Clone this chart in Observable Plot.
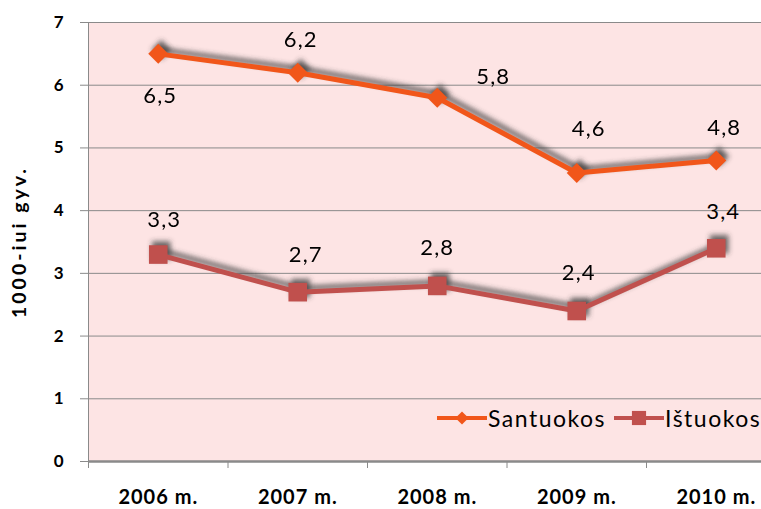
<!DOCTYPE html>
<html><head><meta charset="utf-8">
<script src="https://cdn.jsdelivr.net/npm/d3@7"></script>
<script src="https://cdn.jsdelivr.net/npm/@observablehq/plot@0.6"></script>
<style>
body{margin:0;background:#fff;font-family:Lato,"Open Sans",sans-serif}
#wrap{position:relative;width:761px;height:509px;overflow:hidden}
#legend{position:absolute;left:437px;top:404px;display:flex;align-items:center;font-size:23px;letter-spacing:1.5px;color:#000;white-space:nowrap}
#legend .item{display:flex;align-items:center}
#legend svg{display:block}
</style></head>
<body><div id="wrap"></div>
<script>
// ---- data ----
const years = ["2006 m.", "2007 m.", "2008 m.", "2009 m.", "2010 m."];
const santuokos = [6.5, 6.2, 5.8, 4.6, 4.8];
const istuokos = [3.3, 2.7, 2.8, 2.4, 3.4];
const seriesNames = ["Santuokos", "Ištuokos"];
const yTicks = [0, 1, 2, 3, 4, 5, 6, 7];
const yLabel = "1000-iui gyv.";

// ---- layout / style ----
const colors = {Santuokos: "#F1561A", "Ištuokos": "#C0504D"};
const symbols = {Santuokos: "diamond2", "Ištuokos": "square"};
const symR = {Santuokos: 9, "Ištuokos": 10.5};
const shadowColor = "#3c3c3c";
// label offsets (screen px) per series/point
const labelOff = {
  Santuokos: [[2, 42], [3, -33], [56, -21], [12, -44], [8, -33]],
  "Ištuokos": [[6, -35], [8, -37], [0, -38], [2, -38], [7, -36]]
};

const rows = [];
[santuokos, istuokos].forEach((vals, s) => {
  vals.forEach((v, i) => rows.push({series: seriesNames[s], i: i + 0.5, year: years[i], value: v}));
});
const fmt = v => String(v).replace(".", ",");

const marks = [
  Plot.frame({fill: "#FDE4E4", stroke: null}),
  Plot.gridY(yTicks, {stroke: "#8a8a8a", strokeOpacity: 1, strokeWidth: 1}),
  Plot.ruleX([0], {stroke: "#8a8a8a"}),
  Plot.ruleY([0], {stroke: "#8a8a8a", strokeWidth: 2.5}),
  Plot.axisY(yTicks, {tickSize: 8, text: null, stroke: "#8a8a8a", label: null}),
  Plot.axisY(yTicks, {tickSize: 0, tickPadding: 0, dx: -25, tickFormat: d => String(d), fontSize: 17, fontWeight: "bold", fill: "#000", label: null}),
  Plot.axisX([0, 1, 2, 3, 4], {tickSize: 7, tickFormat: () => "", stroke: "#8a8a8a", label: null}),
  Plot.axisX(years.map((d, i) => i + 0.5), {tickSize: 0, tickPadding: 28, tickFormat: d => years[Math.floor(d)], fontSize: 20, fontWeight: "bold", fill: "#000", label: null}),
  Plot.text([yLabel], {frameAnchor: "left", textAnchor: "middle", dx: -69, dy: 0, rotate: -90, fontSize: 19.5, fontWeight: "bold", fill: "#000"})
];
for (const s of seriesNames) {
  const d = rows.filter(r => r.series === s);
  marks.push(
    Plot.line(d, {x: "i", y: "value", stroke: shadowColor, strokeWidth: 5, dx: 3, dy: -4, strokeOpacity: 0.75}),
    Plot.dot(d, {x: "i", y: "value", symbol: symbols[s], r: symR[s], fill: shadowColor, dx: 3, dy: -4, fillOpacity: 0.75}),
    Plot.line(d, {x: "i", y: "value", stroke: colors[s], strokeWidth: 5}),
    Plot.dot(d, {x: "i", y: "value", symbol: symbols[s], r: symR[s], fill: colors[s]})
  );
  d.forEach((r, i) => {
    marks.push(Plot.text([r], {x: "i", y: "value", text: q => fmt(q.value),
      dx: labelOff[s][i][0], dy: labelOff[s][i][1], fontSize: 22, fill: "#000"}));
  });
}

const chart = Plot.plot({
  width: 761, height: 509,
  marginLeft: 88, marginRight: 0, marginTop: 22, marginBottom: 48,
  style: {fontFamily: "Lato, 'Open Sans', sans-serif", background: "transparent", overflow: "hidden"},
  x: {type: "linear", domain: [0, 5], range: [88, 785.5]},
  y: {domain: [0, 7], range: [461, 22]},
  marks
});

const svg = d3.select(chart);
// letter spacing to mimic the original's wide type
svg.selectAll('g[font-size="22"]').style("letter-spacing", "1.2px");
svg.selectAll('g[font-size="20"]').style("letter-spacing", "1px");
svg.selectAll('g[font-size="19.5"]').style("letter-spacing", "3px");

// blur filter for shadows
const defs = svg.insert("defs", ":first-child");
defs.append("filter").attr("id", "blurShadow").attr("filterUnits", "userSpaceOnUse")
  .attr("x", -50).attr("y", -50).attr("width", 861).attr("height", 609)
  .append("feGaussianBlur").attr("stdDeviation", 2.5);
svg.selectAll(`g[fill="${shadowColor}"], g[stroke="${shadowColor}"]`).attr("filter", "url(#blurShadow)");

const wrap = document.getElementById("wrap");
wrap.appendChild(chart);

// legend
const legend = document.createElement("div");
legend.id = "legend";
seriesNames.forEach((s, k) => {
  const item = document.createElement("div");
  item.className = "item";
  item.style.marginRight = k === 0 ? "8px" : "0";
  const sw = d3.create("svg").attr("width", 50).attr("height", 24);
  sw.append("line").attr("x1", 0).attr("x2", 50).attr("y1", 12).attr("y2", 12).attr("stroke", colors[s]).attr("stroke-width", 4);
  sw.append("path").attr("transform", "translate(25,12)")
    .attr("d", d3.symbol(s === "Santuokos" ? d3.symbolDiamond2 : d3.symbolSquare, s === "Santuokos" ? 110 : 200)())
    .attr("fill", colors[s]);
  item.appendChild(sw.node());
  const lab = document.createElement("span");
  lab.textContent = s;
  lab.style.marginLeft = "1px";
  item.appendChild(lab);
  legend.appendChild(item);
});
wrap.appendChild(legend);
</script>
</body></html>
